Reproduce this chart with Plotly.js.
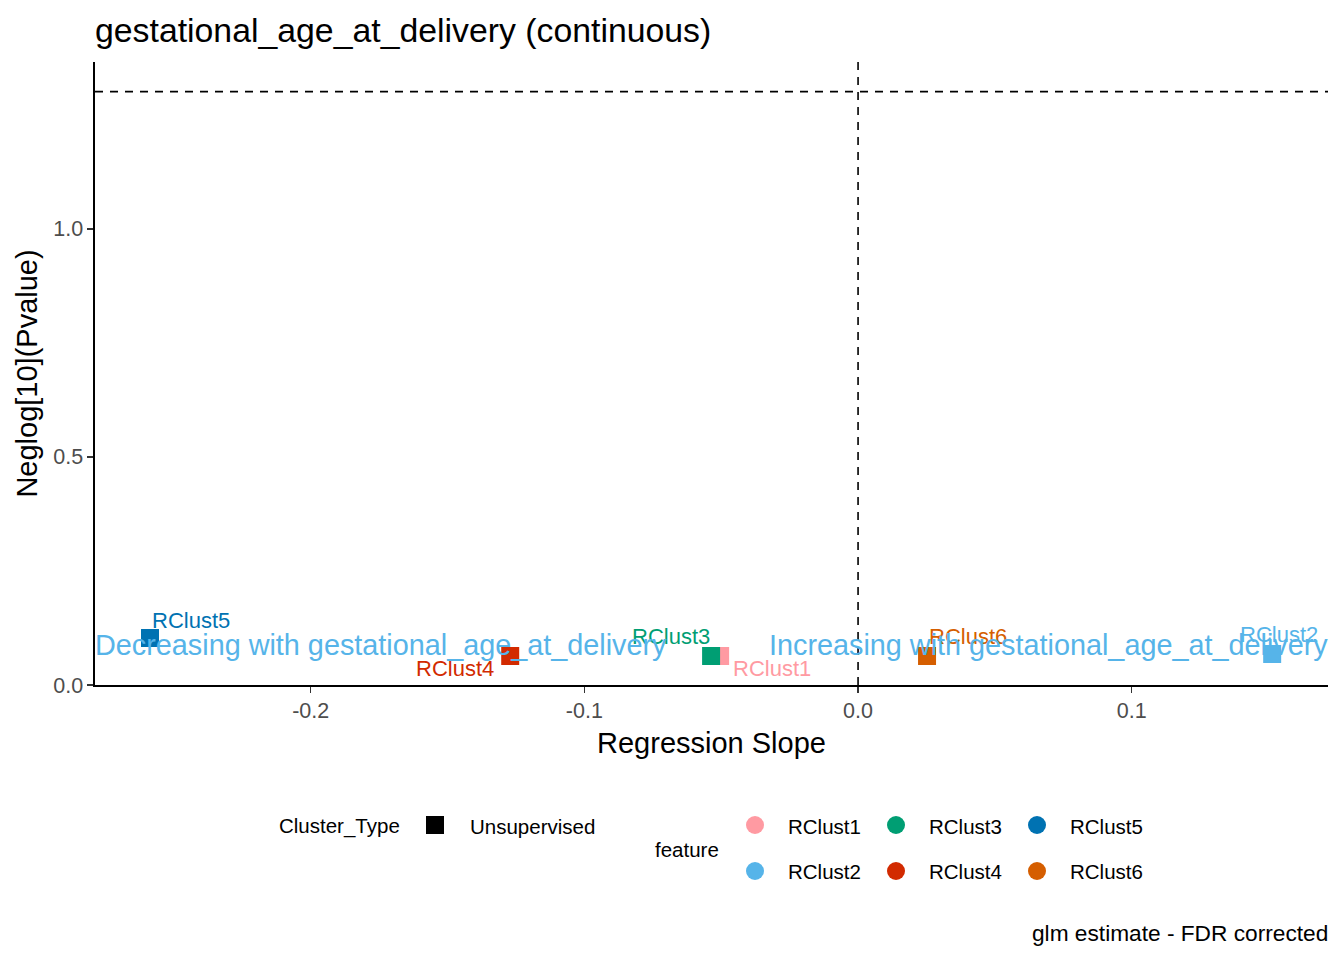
<!DOCTYPE html>
<html>
<head>
<meta charset="utf-8">
<script src="https://cdn.plot.ly/plotly-3.0.1.min.js"></script>
<style>html,body{margin:0;padding:0;background:#fff;}#chart{width:1344px;height:960px;}</style>
</head>
<body>
<div id="chart"></div>
<script>
// ---- data ----
const features = ["RClust1", "RClust2", "RClust3", "RClust4", "RClust5", "RClust6"];
const slopes = [-0.0504, 0.1513, -0.0537, -0.1271, -0.2587, 0.0252];
const neglogP = [0.0636, 0.068, 0.0636, 0.0636, 0.103, 0.0636];
const featureColors = ["#FF9AA2", "#56B4E9", "#009E73", "#D22A00", "#0072B2", "#D55E00"];
const clusterTypes = ["Unsupervised"];
const xTicks = [-0.2, -0.1, 0.0, 0.1];
const yTicks = [0.0, 0.5, 1.0];
const pThreshold = 0.05;
const titleText = "gestational_age_at_delivery (continuous)";
const xTitle = "Regression Slope";
const yTitle = "Neglog[10](Pvalue)";
const leftNote = "Decreasing with gestational_age_at_delivery";
const rightNote = "Increasing with gestational_age_at_delivery";
const caption = "glm estimate - FDR corrected";
const noteY = 0.088;

// label offsets (repel-like placement, pixels)
const labelShiftX = [52, 7, -40, -55, 41, 41];
const labelShiftY = [-13, 19, 19, -13, 18, 19];

const FONT = "Liberation Sans, Arial, sans-serif";

const traces = features.map((f, i) => ({
  type: "scatter", mode: "markers",
  x: [slopes[i]], y: [neglogP[i]],
  name: f, showlegend: false,
  marker: {symbol: "square", size: 18, color: featureColors[i], line: {width: 0}},
  hoverinfo: "skip"
}));

const annotations = [];
features.forEach((f, i) => {
  annotations.push({
    x: slopes[i], y: neglogP[i], xref: "x", yref: "y",
    text: f, showarrow: false,
    xshift: labelShiftX[i], yshift: labelShiftY[i],
    font: {family: FONT, size: 22, color: featureColors[i]}
  });
});
annotations.push({
  xref: "paper", x: 0, xanchor: "left", yref: "y", y: noteY, xshift: -2,
  text: leftNote, showarrow: false,
  font: {family: FONT, size: 28.8, color: "#56B4E9"}
});
annotations.push({
  xref: "paper", x: 1, xanchor: "right", yref: "y", y: noteY, xshift: 2,
  text: rightNote, showarrow: false,
  font: {family: FONT, size: 28.8, color: "#56B4E9"}
});

// legend (manual, ggplot style) in pixel space -> paper
const L = 95, R = 1328, T = 62, B = 685;
const px = v => (v - L) / (R - L);
const py = v => (B - v) / (B - T);
const legFont = {family: FONT, size: 20.5, color: "#000"};
const shapes = [];

annotations.push({xref: "paper", yref: "paper", x: px(277), y: py(826), xanchor: "left", yanchor: "middle",
  text: "Cluster_Type", showarrow: false, font: legFont});
clusterTypes.forEach((c, i) => {
  shapes.push({type: "rect", xref: "paper", yref: "paper", xsizemode: "pixel", ysizemode: "pixel",
    xanchor: px(435), yanchor: py(825), x0: -9, x1: 9, y0: -9, y1: 9,
    fillcolor: "#000", line: {width: 0}});
  annotations.push({xref: "paper", yref: "paper", x: px(468), y: py(826), xanchor: "left", yanchor: "middle",
    text: c, showarrow: false, font: legFont});
});
annotations.push({xref: "paper", yref: "paper", x: px(653), y: py(849), xanchor: "left", yanchor: "middle",
  text: "feature", showarrow: false, font: legFont});
const colX = [755, 896, 1037];
const rowY = [825, 871];
features.forEach((f, i) => {
  const c = Math.floor(i / 2), r = i % 2;
  shapes.push({type: "circle", xref: "paper", yref: "paper", xsizemode: "pixel", ysizemode: "pixel",
    xanchor: px(colX[c]), yanchor: py(rowY[r]), x0: -9, x1: 9, y0: -9, y1: 9,
    fillcolor: featureColors[i], line: {width: 0}});
  annotations.push({xref: "paper", yref: "paper", x: px(colX[c] + 31), y: py(rowY[r] + 1), xanchor: "left", yanchor: "middle",
    text: f, showarrow: false, font: legFont});
});
annotations.push({xref: "paper", yref: "paper", x: 1, y: py(933), xanchor: "right", yanchor: "middle", xshift: 2,
  text: caption, showarrow: false, font: {family: FONT, size: 22.7, color: "#000"}});

// reference lines
const thr = -Math.log10(pThreshold);
shapes.push({type: "line", xref: "x", yref: "paper", x0: 0, x1: 0, y0: 0, y1: 1,
  line: {color: "#000", width: 1.6, dash: "8px,7px"}, layer: "below"});
shapes.push({type: "line", xref: "paper", yref: "y", x0: 0, x1: 1, y0: thr, y1: thr,
  line: {color: "#000", width: 1.6, dash: "8px,7px"}, layer: "below"});

const layout = {
  width: 1344, height: 960,
  margin: {l: L, r: 1344 - R, t: T, b: 960 - B, pad: 0},
  paper_bgcolor: "#fff", plot_bgcolor: "#fff",
  font: {family: FONT, color: "#000"},
  title: {text: titleText, x: 0, xref: "paper", xanchor: "left", y: 1 - 30 / 960, yref: "container", yanchor: "middle",
    font: {family: FONT, size: 33.8, color: "#000"}},
  showlegend: false,
  xaxis: {
    range: [-0.2788, 0.1717], tickvals: xTicks, ticktext: xTicks.map(v => v.toFixed(1)),
    showgrid: false, zeroline: false, showline: true, linecolor: "#000", linewidth: 1.6,
    ticks: "outside", ticklen: 6, tickwidth: 1.4, tickcolor: "#333",
    tickfont: {family: FONT, size: 21.5, color: "#4D4D4D"},
    title: {text: xTitle, standoff: 10, font: {family: FONT, size: 29, color: "#000"}},
    fixedrange: true
  },
  yaxis: {
    range: [0, 1.366], tickvals: yTicks, ticktext: yTicks.map(v => v.toFixed(1)),
    showgrid: false, zeroline: false, showline: true, linecolor: "#000", linewidth: 1.6,
    ticks: "outside", ticklen: 6, tickwidth: 1.4, tickcolor: "#333",
    tickfont: {family: FONT, size: 21.5, color: "#4D4D4D"},
    title: {text: yTitle, standoff: 7, font: {family: FONT, size: 29, color: "#000"}},
    fixedrange: true
  },
  shapes: shapes,
  annotations: annotations
};

Plotly.newPlot("chart", traces, layout, {staticPlot: true, displayModeBar: false});
</script>
</body>
</html>
